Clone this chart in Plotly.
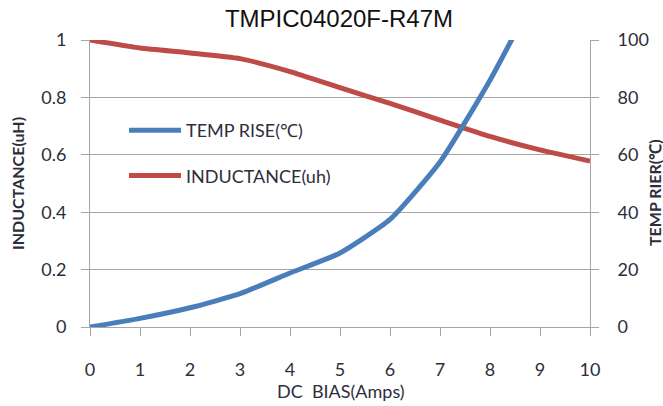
import plotly.graph_objects as go

dc_bias = [0, 1, 2, 3, 4, 5, 6, 7, 8, 9, 10]
inductance = [1.0, 0.972, 0.955, 0.935, 0.89, 0.834, 0.779, 0.721, 0.664, 0.617, 0.578]
temp_x = [0, 1, 2, 3, 4, 5, 6, 7, 8, 9]
temp_rise = [0, 3, 6.7, 11.6, 18.8, 25.8, 37.5, 57.5, 86, 119]

x_ticks = list(range(0, 11))
temp_ticks = [0, 20, 40, 60, 80, 100]
title_text = "TMPIC04020F-R47M"

BLUE = "#4A7EBB"
RED = "#BE4B48"
GRID = "#A6A6A6"
TXT = "#2E2E3A"
FONT = "Lato, 'Open Sans', sans-serif"

W, H = 663, 406
PLOT_L, PLOT_R = 90, 590          # plot area edges in pixels
Y2_POS = 605                      # where the right-hand temperature axis sits
ML, MR, MT, MB = PLOT_L, W - Y2_POS, 40, 79
PW, PH = W - ML - MR, H - MT - MB
X_DOMAIN_END = (PLOT_R - PLOT_L) / PW


def px(xp):
    return (xp - ML) / PW


def py(yp):
    return (H - MB - yp) / PH


fig = go.Figure()
fig.add_trace(go.Scatter(
    x=dc_bias, y=inductance, name="INDUCTANCE(uh)", mode="lines",
    line=dict(color=RED, width=5, shape="spline", smoothing=0.5),
    yaxis="y", legendgroup="b", legendrank=2,
))
fig.add_trace(go.Scatter(
    x=temp_x, y=temp_rise, name="TEMP RISE(℃)", mode="lines",
    line=dict(color=BLUE, width=5, shape="spline", smoothing=0.5),
    yaxis="y2", legendgroup="a", legendrank=1,
))

fig.update_layout(
    width=W, height=H,
    margin=dict(l=ML, r=MR, t=MT, b=MB, autoexpand=False),
    paper_bgcolor="white", plot_bgcolor="white",
    font=dict(family=FONT, size=18, color=TXT),
    title=dict(text=title_text, x=339 / W, xanchor="center", y=1 - 19 / H, yanchor="middle",
               font=dict(family="'Liberation Sans', Arial, sans-serif", size=24, color="#111111")),
    showlegend=True,
    legend=dict(x=px(ML + 34), y=py(MT + 72), xanchor="left", yanchor="top",
                bgcolor="rgba(0,0,0,0)", font=dict(family=FONT, size=18, color=TXT),
                traceorder="grouped", tracegroupgap=19, itemwidth=52),
    xaxis=dict(range=[0, 10], domain=[0, X_DOMAIN_END], tickmode="array", tickvals=x_ticks,
               ticktext=[str(v) for v in x_ticks],
               showgrid=False, zeroline=False, showline=True, linecolor=GRID, linewidth=1,
               ticks="outside", ticklen=8, tickcolor=GRID, ticklabelstandoff=18,
               tickfont=dict(size=18, color=TXT), automargin=False),
    yaxis=dict(range=[0, 1], dtick=0.2, showgrid=True, gridcolor=GRID, gridwidth=1,
               zeroline=False, showline=True, linecolor=GRID, linewidth=1, mirror="ticks",
               ticks="outside", ticklen=8, tickcolor=GRID, ticklabelstandoff=11,
               tickfont=dict(size=18, color=TXT), automargin=False),
    yaxis2=dict(range=[0, 100], tickmode="array", tickvals=temp_ticks,
                ticktext=[str(v) for v in temp_ticks],
                overlaying="y", side="right", anchor="free", position=1, showgrid=False,
                zeroline=False, showline=False,
                ticks="outside", ticklen=8, tickcolor="rgba(0,0,0,0)",
                tickfont=dict(size=18, color=TXT), automargin=False),
    annotations=[
        dict(text="<b>INDUCTANCE(uH)</b>", xref="paper", yref="paper",
             x=px(17), y=py(184), textangle=-90, showarrow=False,
             xanchor="center", yanchor="middle", font=dict(family=FONT, size=16, color=TXT)),
        dict(text="<b>TEMP RIER(℃)</b>", xref="paper", yref="paper",
             x=px(654), y=py(193), textangle=-90, showarrow=False,
             xanchor="center", yanchor="middle", font=dict(family=FONT, size=16, color=TXT)),
        dict(text="DC\u00a0 BIAS(Amps)", xref="paper", yref="paper",
             x=px(341), y=py(391), showarrow=False,
             xanchor="center", yanchor="middle", font=dict(family=FONT, size=18, color=TXT)),
    ],
)

fig.write_html("out.html", config={"displayModeBar": False},
               post_script="document.body.style.margin='0px';")
